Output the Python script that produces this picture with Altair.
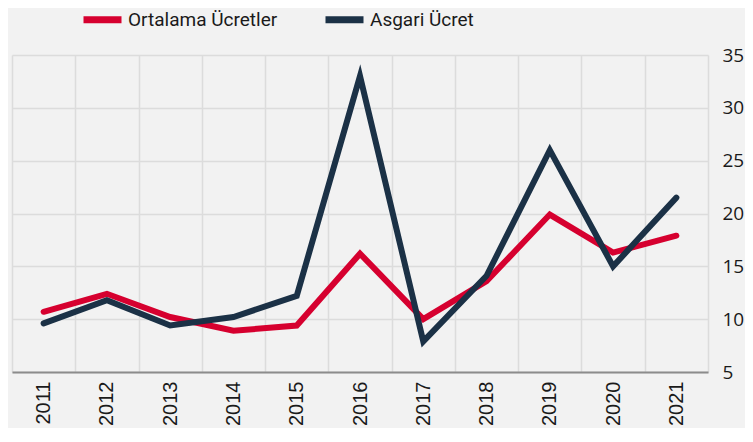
import altair as alt
import pandas as pd

years = ["2011", "2012", "2013", "2014", "2015", "2016", "2017", "2018", "2019", "2020", "2021"]
ortalama = [10.7, 12.4, 10.2, 8.9, 9.4, 16.2, 10.0, 13.6, 19.9, 16.3, 17.9]
asgari = [9.6, 11.8, 9.4, 10.2, 12.2, 33.0, 7.9, 14.1, 26.0, 15.0, 21.5]
series = ["Ortalama Ücretler", "Asgari Ücret"]
colors = ["#D6002F", "#1B3146"]

rows = []
for name, vals in zip(series, [ortalama, asgari]):
    for y, v in zip(years, vals):
        rows.append({"Yil": y, "Deger": v, "Seri": name})
df = pd.DataFrame(rows)

chart = (
    alt.Chart(df)
    .mark_line(strokeWidth=6, strokeCap="round", strokeJoin="miter")
    .encode(
        x=alt.X(
            "Yil:O",
            sort=years,
            scale=alt.Scale(paddingInner=0, paddingOuter=0),
            axis=alt.Axis(
                title=None,
                labelAngle=-90,
                labelFont="Liberation Sans",
                labelFontSize=20,
                labelColor="#1a1a1a",
                labelPadding=9,
                ticks=False,
                tickSize=0,
                tickBand="extent",
                grid=True,
                gridColor="#DCDCDC",
                gridWidth=1.5,
                domainColor="#8C8C8C",
                domainWidth=2,
            ),
        ),
        y=alt.Y(
            "Deger:Q",
            scale=alt.Scale(domain=[5, 35], nice=False, zero=False),
            axis=alt.Axis(
                title=None,
                orient="right",
                values=[5, 10, 15, 20, 25, 30, 35],
                labelFont="Open Sans",
                labelFontSize=19,
                labelColor="#1a1a1a",
                labelPadding=14,
                ticks=False,
                tickSize=0,
                domain=False,
                grid=True,
                gridColor="#DCDCDC",
                gridWidth=1.5,
            ),
        ),
        color=alt.Color(
            "Seri:N",
            sort=series,
            scale=alt.Scale(domain=series, range=colors),
            legend=alt.Legend(
                title=None,
                orient="none",
                direction="horizontal",
                legendX=68,
                legendY=-58,
                symbolType="stroke",
                symbolSize=1444,
                symbolStrokeWidth=7,
                labelFont="Roboto",
                labelFontSize=19,
                labelColor="#1a1a1a",
                labelOffset=3,
                columnPadding=33,
                padding=0,
            ),
        ),
    )
    .properties(
        width=696,
        height=317,
        autosize=alt.AutoSizeParams(type="none"),
        padding={"left": 4, "top": 47, "right": 37, "bottom": 56},
        background="#F2F2F2",
    )
    .configure_view(stroke=None)
)

chart.save("out.html", embed_options={"renderer": "svg", "actions": False})
